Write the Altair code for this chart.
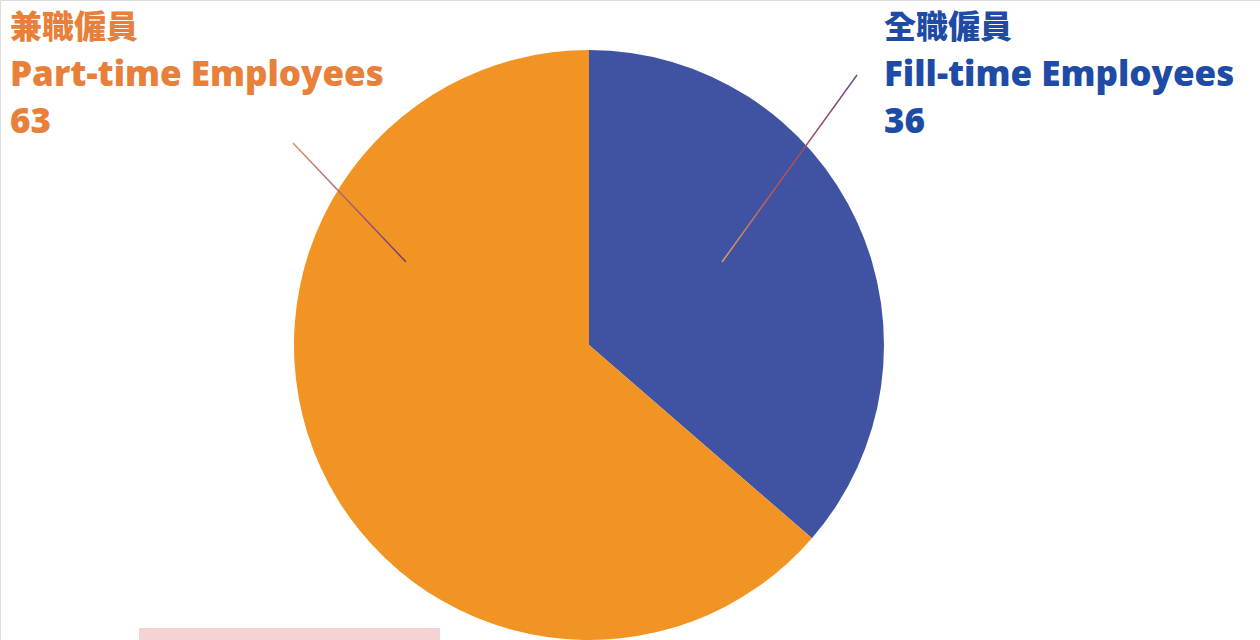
import altair as alt
import pandas as pd

categories = ["全職僱員", "兼職僱員"]
english = ["Fill-time Employees", "Part-time Employees"]
values = [36, 63]
order = [0, 1]
colors = ["#3F53A2", "#F29423"]

df = pd.DataFrame({"cat": categories, "eng": english, "value": values, "order": order})

W, H = 1260, 640
CX, CY, R = 589, 345, 295

pie = alt.Chart(df).mark_arc(strokeWidth=0).encode(
    theta=alt.Theta("value:Q", stack=True),
    color=alt.Color("cat:N", scale=alt.Scale(domain=categories, range=colors), legend=None),
    order=alt.Order("order:Q"),
    x=alt.value(CX), y=alt.value(CY), radius=alt.value(R),
)

grad_left = alt.LinearGradient(
    gradient="linear",
    stops=[alt.GradientStop(color="#D98A6A", offset=0), alt.GradientStop(color="#6B3A7A", offset=1)],
    x1=0, x2=1, y1=0, y2=1,
)
grad_right = alt.LinearGradient(
    gradient="linear",
    stops=[alt.GradientStop(color="#6B4A8A", offset=0), alt.GradientStop(color="#C0504A", offset=0.6), alt.GradientStop(color="#D9A070", offset=1)],
    x1=1, x2=0, y1=0, y2=1,
)

rule_l = alt.Chart(df.iloc[[1]]).mark_rule(strokeWidth=1.5, color=grad_left).encode(
    x=alt.value(293), y=alt.value(143), x2=alt.value(406), y2=alt.value(262)
)
rule_r = alt.Chart(df.iloc[[0]]).mark_rule(strokeWidth=1.5, color=grad_right).encode(
    x=alt.value(857), y=alt.value(75), x2=alt.value(722), y2=alt.value(262)
)

def label(row, x, color):
    d = df.iloc[[row]]
    zh = alt.Chart(d).mark_text(align="left", baseline="middle", font="Noto Sans CJK TC",
                                fontWeight=900, fontSize=32, color=color).encode(
        x=alt.value(x), y=alt.value(28), text="cat:N")
    en = alt.Chart(d).mark_text(align="left", baseline="middle", font="Open Sans",
                                fontWeight=800, fontSize=35, color=color).encode(
        x=alt.value(x), y=alt.value(75), text="eng:N")
    num = alt.Chart(d).mark_text(align="left", baseline="middle", font="Open Sans",
                                 fontWeight=800, fontSize=35, color=color).encode(
        x=alt.value(x), y=alt.value(122), text="value:Q")
    return zh + en + num

lab_l = label(1, 10, "#E8803A")
lab_r = label(0, 884, "#1E4BA6")

box = alt.Chart(df.iloc[[0]]).mark_rect(color="#F3D4D2").encode(
    x=alt.value(139), x2=alt.value(440), y=alt.value(628), y2=alt.value(640)
)

chart = alt.layer(box, pie, rule_l, rule_r, lab_l, lab_r).properties(
    width=W, height=H, padding=0, autosize=alt.AutoSizeParams(type="none")
).configure_view(stroke="transparent", strokeWidth=0).configure(background="white")

chart.save("out.html", embed_options={"renderer": "svg", "actions": False})
